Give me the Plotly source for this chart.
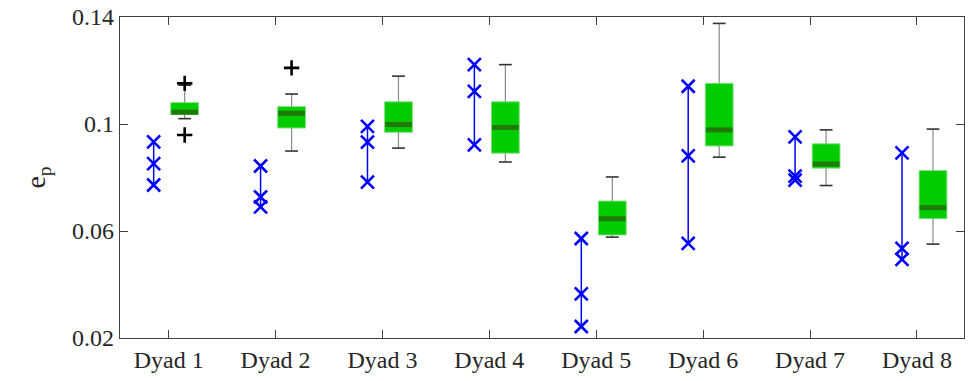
import plotly.graph_objects as go

dyads = ["Dyad 1", "Dyad 2", "Dyad 3", "Dyad 4", "Dyad 5", "Dyad 6", "Dyad 7", "Dyad 8"]
cross_vals = [
    [0.0933, 0.0852, 0.0772],
    [0.0843, 0.0727, 0.0690],
    [0.0991, 0.0932, 0.0783],
    [0.1222, 0.1122, 0.0922],
    [0.0572, 0.0365, 0.0243],
    [0.1141, 0.0881, 0.0554],
    [0.0952, 0.0805, 0.0790],
    [0.0892, 0.0535, 0.0494],
]
box_q1 = [0.1035, 0.0985, 0.0969, 0.0891, 0.0585, 0.0918, 0.0835, 0.0646]
box_median = [0.1044, 0.1040, 0.0998, 0.0987, 0.0646, 0.0978, 0.0850, 0.0687]
box_q3 = [0.1080, 0.1065, 0.1083, 0.1083, 0.0712, 0.1152, 0.0926, 0.0826]
whisk_low = [0.1020, 0.0899, 0.0910, 0.0858, 0.0577, 0.0876, 0.0770, 0.0551]
whisk_high = [0.1145, 0.1112, 0.1179, 0.1222, 0.0802, 0.1376, 0.0978, 0.0981]
outliers = [[0.1152, 0.0959], [0.1210], [], [], [], [], [], []]
y_ticks = [0.02, 0.06, 0.1, 0.14]
y_ticktext = ["0.02", "0.06", "0.1", "0.14"]

cross_off = -0.14
box_off = 0.15
box_half = 0.13
cap_half = 0.06

pos = list(range(1, len(dyads) + 1))
SERIF = "Liberation Serif"

fig = go.Figure()

# whiskers
wx, wy = [], []
for p, lo, q1, q3, hi in zip(pos, whisk_low, box_q1, box_q3, whisk_high):
    c = p + box_off
    wx += [c, c, None, c, c, None]
    wy += [lo, q1, None, q3, hi, None]
fig.add_trace(go.Scatter(x=wx, y=wy, mode="lines", line=dict(color="#8a8a8a", width=1.2),
                         hoverinfo="skip", showlegend=False))

# caps
cx, cy = [], []
for p, lo, hi in zip(pos, whisk_low, whisk_high):
    c = p + box_off
    cx += [c - cap_half, c + cap_half, None, c - cap_half, c + cap_half, None]
    cy += [lo, lo, None, hi, hi, None]
fig.add_trace(go.Scatter(x=cx, y=cy, mode="lines", line=dict(color="#333333", width=1.6),
                         hoverinfo="skip", showlegend=False))

# box bodies
fig.add_trace(go.Bar(
    x=[p + box_off for p in pos],
    base=box_q1,
    y=[q3 - q1 for q1, q3 in zip(box_q1, box_q3)],
    width=box_half * 2,
    marker=dict(color="#00CC00", line=dict(color="#7ee27e", width=1)),
    showlegend=False,
))

# medians
mx, my = [], []
for p, m in zip(pos, box_median):
    c = p + box_off
    mx += [c - box_half + 0.005, c + box_half - 0.005, None]
    my += [m, m, None]
fig.add_trace(go.Scatter(x=mx, y=my, mode="lines", line=dict(color="#1f7a0a", width=5),
                         hoverinfo="skip", showlegend=False))

# outliers
ox, oy = [], []
for p, outs in zip(pos, outliers):
    for v in outs:
        ox.append(p + box_off)
        oy.append(v)
fig.add_trace(go.Scatter(x=ox, y=oy, mode="markers",
                         marker=dict(symbol="cross-thin", size=11, line=dict(color="black", width=2.6)),
                         showlegend=False))

# crosses with connecting lines
for p, vals in zip(pos, cross_vals):
    fig.add_trace(go.Scatter(x=[p + cross_off] * len(vals), y=vals, mode="lines+markers",
                             line=dict(color="#0000FF", width=1.5),
                             marker=dict(symbol="x-thin", size=13, line=dict(color="#0000FF", width=2.6)),
                             showlegend=False))

axis_common = dict(showline=True, linecolor="#404040", linewidth=1.3, mirror="ticks",
                   ticks="inside", ticklen=8, tickcolor="#404040", tickwidth=1.2,
                   showgrid=False, zeroline=False,
                   tickfont=dict(size=24, color="#262626"))

fig.update_layout(
    template="none",
    width=969, height=381,
    margin=dict(l=120, r=5, t=17, b=43),
    plot_bgcolor="white", paper_bgcolor="white",
    barmode="overlay",
    font=dict(family=SERIF, color="#262626"),
    xaxis=dict(range=[0.545, 8.44], tickvals=pos, ticktext=dyads, **axis_common),
    yaxis=dict(range=[0.02, 0.14], tickvals=y_ticks, ticktext=y_ticktext,
               title=dict(text="e<sub>p</sub>", font=dict(size=28, color="#262626"),
                          standoff=18),
               **axis_common),
)

fig.write_html("out.html")
